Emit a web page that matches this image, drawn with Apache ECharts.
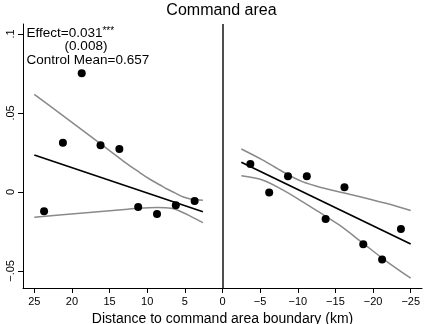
<!DOCTYPE html>
<html>
<head>
<meta charset="utf-8">
<script src="https://cdn.jsdelivr.net/npm/echarts@6/dist/echarts.min.js"></script>
<style>html,body{margin:0;padding:0;background:#fff}#c{width:424px;height:324px}</style>
</head>
<body>
<div id="c"></div>
<script>
// ---- data ----
const titleText = 'Command area';
const xAxisName = 'Distance to command area boundary (km)';
const xTickValues = [25, 20, 15, 10, 5, 0, -5, -10, -15, -20, -25];
const xTickLabels = ['25', '20', '15', '10', '5', '0', '\u22125', '\u221210', '\u221215', '\u221220', '\u221225'];
const yTickValues = [-0.05, 0, 0.05, 0.1];
const yTickLabels = ['\u2212.05', '0', '.05', '.1'];

// binned means
const leftBinX = [23.7, 21.2, 18.7, 16.2, 13.7, 11.2, 8.7, 6.2, 3.7];
const leftBinY = [-0.0122, 0.0312, 0.0751, 0.0296, 0.0272, -0.0095, -0.0139, -0.0084, -0.0057];
const rightBinX = [-3.7, -6.2, -8.7, -11.2, -13.7, -16.2, -18.7, -21.2, -23.7];
const rightBinY = [0.0177, -0.0004, 0.0099, 0.0099, -0.0171, 0.0030, -0.0331, -0.0428, -0.0234];

// fitted lines
const leftFitX = [25.0, 2.6];
const leftFitY = [0.0234, -0.0125];
const rightFitX = [-2.5, -25.0];
const rightFitY = [0.0188, -0.0329];

// confidence bands (left side)
const leftUpX = [25.0, 21.6, 17.6, 13.0, 11.0, 9.7, 8.3, 7.3, 6.2, 5.2, 4.1, 2.6];
const leftUpY = [0.0618, 0.0497, 0.0355, 0.0189, 0.0123, 0.0082, 0.0044, 0.0017, -0.0009, -0.0032, -0.0046, -0.0053];
const leftLoX = [25.0, 18.9, 12.6, 11.2, 8.6, 6.8, 5.5, 4.15, 2.6];
const leftLoY = [-0.0160, -0.0135, -0.0109, -0.0103, -0.0099, -0.0103, -0.0125, -0.0156, -0.0194];
// confidence bands (right side)
const rightUpX = [-2.5, -5.3, -8.0, -10.6, -13.5, -17.3, -21.7, -25.0];
const rightUpY = [0.0272, 0.0203, 0.0128, 0.0065, 0.0023, -0.0019, -0.0072, -0.0118];
const rightLoX = [-2.5, -5.3, -8.0, -10.6, -13.5, -15.5, -18.6, -21.7, -25.0];
const rightLoY = [0.0103, 0.0076, 0.0013, -0.0061, -0.0148, -0.0209, -0.0322, -0.0436, -0.0546];

const annot1 = 'Effect=0.031';
const annotStars = '***';
const annot2 = '(0.008)';
const annot3 = 'Control Mean=0.657';

// ---- chart ----
const zip = (xs, ys) => xs.map((x, i) => [x, ys[i]]);
const FONT = '"Liberation Sans", Arial, Helvetica, sans-serif';
const ciStyle = { color: '#8a8a8a', width: 1.5 };
const fitStyle = { color: '#000', width: 1.7 };

function lineSeries(xs, ys, style, smooth) {
  return {
    type: 'line', data: zip(xs, ys), showSymbol: false, symbol: 'none',
    smooth: smooth, lineStyle: style, silent: true, z: 2
  };
}

const chart = echarts.init(document.getElementById('c'), null, { renderer: 'canvas' });
chart.setOption({
  animation: false,
  backgroundColor: '#fff',
  textStyle: { fontFamily: FONT },
  grid: { left: 23, right: 2, top: 24, bottom: 36, containLabel: false, outerBoundsMode: 'none' },
  xAxis: {
    type: 'value', min: -26.5, max: 26.5, inverse: true,
    name: xAxisName, nameLocation: 'middle', nameGap: 20,
    nameTextStyle: { color: '#000', fontSize: 14, fontFamily: FONT },
    axisLine: { onZero: false, lineStyle: { color: '#000', width: 1 } },
    axisTick: { show: true, length: 5, lineStyle: { color: '#000' }, customValues: xTickValues },
    axisLabel: {
      color: '#000', fontSize: 11, margin: 8, fontFamily: FONT,
      customValues: xTickValues,
      formatter: v => { const i = xTickValues.findIndex(t => Math.abs(t - v) < 1e-9); return i >= 0 ? xTickLabels[i] : ''; }
    },
    splitLine: { show: false }
  },
  yAxis: {
    type: 'value', min: -0.0608, max: 0.1063,
    axisLine: { show: true, onZero: false, lineStyle: { color: '#000', width: 1 } },
    axisTick: { show: true, length: 5, lineStyle: { color: '#000' }, customValues: yTickValues },
    axisLabel: {
      color: '#000', fontSize: 11, margin: 7, rotate: 90, fontFamily: FONT,
      customValues: yTickValues,
      formatter: v => { const i = yTickValues.findIndex(t => Math.abs(t - v) < 1e-9); return i >= 0 ? yTickLabels[i] : ''; }
    },
    splitLine: { show: false }
  },
  series: [
    lineSeries(leftUpX, leftUpY, ciStyle, 0.35),
    lineSeries(leftLoX, leftLoY, ciStyle, 0.35),
    lineSeries(rightUpX, rightUpY, ciStyle, 0.35),
    lineSeries(rightLoX, rightLoY, ciStyle, 0.35),
    lineSeries(leftFitX, leftFitY, fitStyle, false),
    Object.assign(lineSeries(rightFitX, rightFitY, fitStyle, false), {
      markLine: {
        silent: true, symbol: 'none', label: { show: false },
        lineStyle: { color: '#222', width: 1.6, type: 'solid' },
        data: [{ xAxis: 0 }]
      }
    }),
    { type: 'scatter', data: zip(leftBinX, leftBinY), symbol: 'circle', symbolSize: 8,
      itemStyle: { color: '#000', opacity: 1 }, z: 5, silent: true },
    { type: 'scatter', data: zip(rightBinX, rightBinY), symbol: 'circle', symbolSize: 8,
      itemStyle: { color: '#000', opacity: 1 }, z: 5, silent: true }
  ],
  graphic: [
    { type: 'text', x: 221.5, y: 11, silent: true,
      style: { text: titleText, fill: '#000', font: '16px ' + FONT, textAlign: 'center', textVerticalAlign: 'middle' } },
    { type: 'text', x: 26.5, y: 33, silent: true,
      style: { text: '{a|' + annot1 + '}{s|' + annotStars + '}', fill: '#000', textAlign: 'left', textVerticalAlign: 'middle',
        rich: { a: { fontSize: 13.5, fontFamily: FONT, fill: '#000', verticalAlign: 'bottom' },
                s: { fontSize: 10, fontFamily: FONT, fill: '#000', verticalAlign: 'top', padding: [0, 0, 0, 0] } } } },
    { type: 'text', x: 86, y: 46.5, silent: true,
      style: { text: annot2, fill: '#000', font: '13.5px ' + FONT, textAlign: 'center', textVerticalAlign: 'middle' } },
    { type: 'text', x: 26.5, y: 60, silent: true,
      style: { text: annot3, fill: '#000', font: '13.5px ' + FONT, textAlign: 'left', textVerticalAlign: 'middle' } }
  ]
});
</script>
</body>
</html>
